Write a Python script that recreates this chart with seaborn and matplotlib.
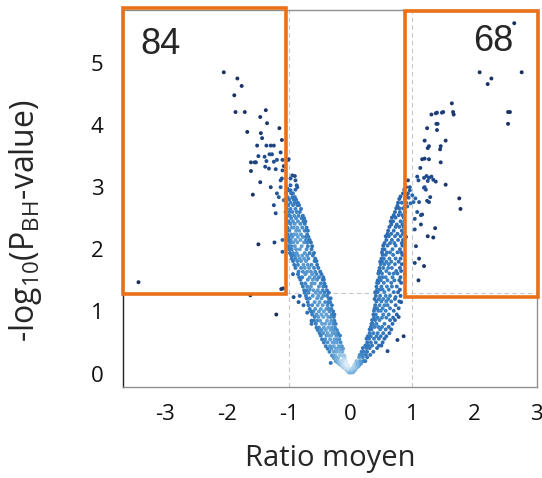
import numpy as np
import pandas as pd
import matplotlib
matplotlib.use("Agg")
import matplotlib.pyplot as plt
from matplotlib.colors import LinearSegmentedColormap
from matplotlib.patches import Rectangle
import seaborn as sns

# ---- points (ratio moyen, -log10 P_BH) ----
# bras gauche, bande dense : une ligne par niveau de y
left_rows_y = [0.02, 0.05, 0.08, 0.10, 0.13, 0.15, 0.18, 0.20,
               0.25, 0.29, 0.35, 0.40, 0.44, 0.50, 0.55, 0.61, 0.65, 0.70,
               0.74, 0.80, 0.85, 0.91, 0.95, 1.00, 1.04, 1.10, 1.15, 1.21,
               1.25, 1.30, 1.34, 1.40, 1.45, 1.51, 1.55, 1.60, 1.64, 1.70,
               1.75, 1.81, 1.85, 1.90, 1.94, 2.00, 2.05, 2.11, 2.15, 2.20,
               2.24, 2.30, 2.35, 2.41, 2.45, 2.50, 2.54, 2.60, 2.65, 2.71,
               2.75, 2.80, 2.84, 2.90, 2.95]
left_rows_x = [
    [-0.01, -0.03, 0.00, -0.02],
    [-0.05, -0.02, -0.03, -0.06],
    [-0.09, -0.03, -0.06, -0.04],
    [-0.12, -0.05, -0.08],
    [-0.07, -0.15, -0.04, -0.11],
    [-0.18, -0.09, -0.06, -0.13],
    [-0.10, -0.21, -0.07, -0.16],
    [-0.24, -0.08, -0.19, -0.12, -0.15],
    [-0.11, -0.27, -0.20, -0.09, -0.23],
    [-0.30, -0.14, -0.18, -0.25, -0.10],
    [-0.22, -0.13, -0.34, -0.27, -0.17],
    [-0.15, -0.37, -0.24, -0.12, -0.31, -0.20],
    [-0.33, -0.19, -0.40, -0.14, -0.27],
    [-0.16, -0.29, -0.43, -0.22, -0.37, -0.25],
    [-0.41, -0.18, -0.33, -0.46, -0.26, -0.21],
    [-0.23, -0.39, -0.17, -0.48, -0.31, -0.35],
    [-0.44, -0.20, -0.29, -0.50, -0.37, -0.26],
    [-0.32, -0.47, -0.22, -0.40, -0.53, -0.27],
    [-0.25, -0.51, -0.36, -0.43, -0.30, -0.55],
    [-0.46, -0.28, -0.56, -0.34, -0.24, -0.41, -0.63],
    [-0.38, -0.59, -0.26, -0.49, -0.31, -0.54],
    [-0.27, -0.44, -0.58, -0.36, -0.52, -0.32],
    [-0.55, -0.30, -0.47, -0.62, -0.39, -0.26],
    [-0.34, -0.60, -0.43, -0.28, -0.51, -0.64],
    [-0.48, -0.31, -0.66, -0.39, -0.57, -0.35],
    [-0.62, -0.37, -0.30, -0.53, -0.45, -0.68, -0.76],
    [-0.41, -0.58, -0.33, -0.69, -0.50, -0.36],
    [-0.66, -0.35, -0.47, -0.54, -0.32, -0.71],
    [-0.38, -0.61, -0.72, -0.44, -0.52, -0.82],
    [-0.56, -0.35, -0.68, -0.42, -0.74, -0.49],
    [-0.45, -0.71, -0.38, -0.60, -0.53, -0.75],
    [-0.64, -0.40, -0.77, -0.51, -0.44, -0.70],
    [-0.48, -0.73, -0.58, -0.42, -0.79, -0.63],
    [-0.69, -0.45, -0.54, -0.81, -0.61, -0.43],
    [-0.51, -0.78, -0.44, -0.66, -0.83, -0.58],
    [-0.73, -0.47, -0.62, -0.85, -0.55, -0.93],
    [-0.57, -0.84, -0.70, -0.49, -0.77, -0.64],
    [-0.80, -0.52, -0.67, -0.89, -0.59, -0.74],
    [-0.63, -0.91, -0.54, -0.76, -0.85, -0.69],
    [-0.86, -0.58, -0.72, -0.93, -0.55, -0.80],
    [-0.68, -0.95, -0.82, -0.57, -0.75, -0.89],
    [-0.91, -0.61, -0.78, -0.96, -0.70, -0.85],
    [-0.74, -0.98, -0.59, -0.87, -0.66, -0.93],
    [-0.95, -0.63, -0.82, -0.71, -0.99, -0.88],
    [-0.69, -0.90, -1.00, -0.62, -0.79, -0.96],
    [-0.86, -0.64, -0.98, -0.75, -0.93, -0.70],
    [-0.97, -0.72, -0.81, -1.01, -0.66, -0.89],
    [-0.77, -0.94, -0.68, -1.00, -0.85, -0.72],
    [-0.91, -0.70, -1.02, -0.80, -0.96, -0.87],
    [-0.74, -0.99, -0.88, -0.69, -1.03, -0.83],
    [-0.95, -0.78, -0.71, -1.02, -0.86, -0.92],
    [-0.81, -1.03, -0.90, -0.74, -0.97],
    [-1.00, -0.76, -0.93, -0.85, -0.73],
    [-0.88, -0.79, -1.04, -0.96, -0.75],
    [-0.98, -0.84, -0.77, -1.02, -0.91],
    [-0.82, -1.05, -0.94, -0.87, -0.99],
    [-0.97, -0.80, -1.03, -0.89],
    [-0.86, -1.01, -0.93, -0.83],
    [-1.04, -0.90, -0.85, -0.97],
    [-0.92, -1.05, -0.88, -0.99],
    [-1.02, -0.94, -0.90],
    [-0.96, -1.04, -0.93],
    [-1.01, -0.97],
]

# bras droit, bande dense
right_rows_y = [0.02, 0.05, 0.08, 0.11, 0.13, 0.16, 0.20,
                0.26, 0.30, 0.35, 0.41, 0.45, 0.50, 0.56, 0.60, 0.65, 0.71,
                0.75, 0.80, 0.86, 0.90, 0.95, 1.01, 1.05, 1.10, 1.16, 1.20,
                1.25, 1.31, 1.35, 1.40, 1.46, 1.50, 1.55, 1.61, 1.65, 1.70,
                1.76, 1.80, 1.85, 1.91, 1.95, 2.00, 2.06, 2.10, 2.15, 2.21,
                2.25, 2.30, 2.36, 2.40, 2.45, 2.51, 2.55, 2.60, 2.66, 2.70,
                2.75, 2.81, 2.85, 2.90, 2.96, 3.00]
right_rows_x = [
    [0.02, 0.04, 0.01],
    [0.05, 0.02, 0.07],
    [0.09, 0.03, 0.06],
    [0.05, 0.12, 0.08],
    [0.14, 0.06, 0.10],
    [0.08, 0.17, 0.12],
    [0.21, 0.10, 0.16, 0.24],
    [0.14, 0.27, 0.20],
    [0.25, 0.15, 0.32, 0.19],
    [0.18, 0.37, 0.27, 0.22],
    [0.31, 0.20, 0.43, 0.26],
    [0.46, 0.24, 0.35, 0.29, 0.50],
    [0.27, 0.41, 0.52, 0.33],
    [0.38, 0.26, 0.55, 0.46, 0.30],
    [0.49, 0.33, 0.28, 0.58, 0.42],
    [0.31, 0.44, 0.63, 0.37, 0.53],
    [0.57, 0.34, 0.48, 0.31, 0.66],
    [0.39, 0.62, 0.33, 0.51, 0.45],
    [0.68, 0.36, 0.55, 0.42, 0.34],
    [0.47, 0.35, 0.64, 0.40, 0.72],
    [0.38, 0.58, 0.51, 0.69, 0.44],
    [0.62, 0.41, 0.37, 0.75, 0.53],
    [0.45, 0.70, 0.38, 0.57, 0.49],
    [0.39, 0.64, 0.52, 0.78, 0.43],
    [0.73, 0.47, 0.40, 0.60, 0.55],
    [0.42, 0.58, 0.79, 0.50, 0.66],
    [0.61, 0.39, 0.46, 0.72, 0.53],
    [0.48, 0.81, 0.41, 0.64, 0.57],
    [0.70, 0.44, 0.55, 0.40, 0.77],
    [0.52, 0.62, 0.43, 0.80, 0.47],
    [0.42, 0.75, 0.59, 0.50, 0.67],
    [0.66, 0.45, 0.82, 0.54, 0.43],
    [0.49, 0.71, 0.44, 0.60, 0.79],
    [0.57, 0.81, 0.47, 0.68, 0.52],
    [0.45, 0.63, 0.76, 0.51, 0.70],
    [0.74, 0.48, 0.58, 0.46, 0.82],
    [0.53, 0.67, 0.80, 0.47, 0.61],
    [0.62, 0.49, 0.83, 0.72, 0.55],
    [0.78, 0.51, 0.66, 0.58, 0.48],
    [0.54, 0.73, 0.50, 0.81, 0.63],
    [0.69, 0.57, 0.84, 0.52],
    [0.51, 0.76, 0.64, 0.59, 0.82],
    [0.80, 0.55, 0.68, 0.52],
    [0.60, 0.84, 0.73, 0.53],
    [0.55, 0.71, 0.64, 0.83],
    [0.77, 0.58, 0.85, 0.67],
    [0.62, 0.81, 0.57, 0.72],
    [0.85, 0.66, 0.60, 0.76],
    [0.70, 0.61, 0.83],
    [0.79, 0.63, 0.73, 0.86],
    [0.66, 0.84, 0.75],
    [0.81, 0.69, 0.65, 0.87],
    [0.73, 0.86, 0.67],
    [0.84, 0.70, 0.78],
    [0.72, 0.88, 0.80],
    [0.85, 0.74, 0.79],
    [0.76, 0.89],
    [0.83, 0.77, 0.90],
    [0.88, 0.79],
    [0.81, 0.91],
    [0.93, 0.85],
    [0.87],
    [0.96, 0.90],
]

# points isoles, bras gauche
left_out_x = [-2.05, -1.83, -1.76, -1.88, -1.86, -1.71, -1.37, -1.46, -1.35, -1.67,
              -1.45, -1.15, -1.43, -1.11, -1.51, -1.36, -1.29, -1.24, -1.49, -1.39,
              -1.31, -1.27, -1.13, -1.61, -1.55, -1.53, -1.36, -1.24, -1.19, -1.61,
              -1.38, -1.32, -1.21, -1.10, -1.01, -1.46, -1.58, -1.29, -1.13, -0.94,
              -0.89, -0.86, -0.97, -1.02, -1.24, -1.21, -1.49, -1.23, -1.10, -1.10,
              -3.43, -1.12, -1.62, -1.20, -1.09, -0.92, -0.84, -0.63, -0.32, -1.00,
              -0.90, -0.97, -0.87, -0.89, -1.11, -1.13, -1.10, -1.08, -1.19, -1.16,
              -1.08, -0.70, -0.66, -0.72]
left_out_y = [4.85, 4.75, 4.63, 4.48, 4.21, 4.21, 4.24, 4.13, 4.03, 3.89,
              3.87, 3.95, 3.79, 3.76, 3.67, 3.67, 3.67, 3.67, 3.50, 3.49,
              3.53, 3.53, 3.56, 3.40, 3.40, 3.40, 3.42, 3.41, 3.44, 3.26,
              3.33, 3.30, 3.29, 3.44, 3.44, 3.08, 2.88, 3.00, 3.11, 3.19,
              3.11, 3.00, 3.03, 2.98, 2.71, 2.58, 2.08, 2.11, 2.15, 1.96,
              1.47, 1.36, 1.26, 0.95, 1.37, 1.23, 1.15, 0.85, 0.17, 3.45,
              3.18, 3.14, 3.03, 2.96, 3.14, 3.00, 3.27, 3.34, 2.90, 2.84,
              2.79, 0.98, 1.35, 1.62]

# points isoles, bras droit
right_out_x = [2.65, 2.09, 2.77, 2.28, 2.22, 2.55, 2.58, 2.55, 1.64, 1.66,
               1.67, 1.31, 1.38, 1.40, 1.48, 1.50, 1.39, 1.41, 1.24, 1.40,
               1.20, 1.54, 1.27, 1.25, 1.46, 1.45, 1.16, 1.20, 1.27, 1.46,
               1.13, 1.08, 1.10, 1.19, 1.23, 1.27, 1.31, 1.34, 1.38, 1.54,
               1.19, 1.22, 1.29, 1.76, 1.78, 1.37, 1.25, 1.34, 1.14, 1.14,
               1.04, 1.06, 1.11, 1.04, 1.19, 1.10, 1.20, 1.24, 1.11, 1.08,
               1.04, 1.00, 0.86, 0.76, 0.60, 0.78, 0.82, 0.73, 1.25, 0.96,
               0.94, 0.97, 0.92, 1.05, 1.02, 1.27, 1.16, 0.93, 0.90, 0.88]
right_out_y = [5.64, 4.85, 4.85, 4.75, 4.66, 4.21, 4.21, 4.02, 4.35, 4.21,
               4.17, 4.17, 4.19, 4.20, 4.20, 4.21, 4.02, 4.02, 3.95, 3.92,
               3.75, 3.75, 3.66, 3.63, 3.66, 3.61, 3.45, 3.46, 3.45, 3.40,
               3.31, 3.17, 3.11, 3.15, 3.18, 3.15, 3.17, 3.12, 3.09, 3.04,
               2.99, 2.96, 2.84, 2.82, 2.65, 2.34, 2.21, 2.19, 2.55, 2.40,
               2.32, 2.05, 1.85, 1.78, 1.73, 1.50, 3.00, 2.78, 2.76, 2.60,
               2.49, 2.87, 0.60, 0.54, 0.36, 0.91, 1.15, 1.23, 3.10, 2.95,
               2.83, 2.74, 2.69, 2.82, 2.76, 2.76, 2.56, 3.11, 2.20, 1.60]

box_left = (-3.68, 1.28, -1.05, 5.88)
box_right = (0.89, 1.23, 3.03, 5.84)
count_left = "84"
count_right = "68"

# ---- assemblage ----
assert len(left_rows_y) == len(left_rows_x)
assert len(right_rows_y) == len(right_rows_x)
xs, ys = [], []
for yv, row in zip(left_rows_y, left_rows_x):
    xs += row
    ys += [yv] * len(row)
for yv, row in zip(right_rows_y, right_rows_x):
    xs += row
    ys += [yv] * len(row)
xs += left_out_x + right_out_x
ys += left_out_y + right_out_y
df = pd.DataFrame({"ratio": xs, "logp": ys})

# couleur selon la densite locale (facon densCols)
px = df["ratio"].values * 61.8
py = df["logp"].values * 62.0
d2 = (px[:, None] - px[None, :]) ** 2 + (py[:, None] - py[None, :]) ** 2
dens = np.exp(-d2 / (2 * 10.0 ** 2)).sum(axis=1)
df["dens"] = dens / dens.max()

cmap = LinearSegmentedColormap.from_list(
    "vol", [(0.0, "#1a2b57"), (0.2, "#1f4a8a"), (0.4, "#2a68b0"),
            (0.6, "#3a82c4"), (0.8, "#78b2de"), (1.0, "#e0eef9")])

sns.set_style("white")
plt.rcParams["font.family"] = ["Open Sans", "DejaVu Sans"]
plt.rcParams["mathtext.default"] = "regular"
plt.rcParams["axes.unicode_minus"] = False

fig = plt.figure(figsize=(5.42, 4.78), dpi=100)
ax = fig.add_axes([0.227, 0.190, 0.764, 0.790])

for xv in (-1, 1):
    ax.axvline(xv, color="#c8c8c8", lw=0.8, ls=(0, (4, 3)), zorder=0)
ax.axhline(1.3, color="#c8c8c8", lw=0.8, ls=(0, (4, 3)), zorder=0)

sns.scatterplot(data=df, x="ratio", y="logp", hue="dens", palette=cmap,
                hue_norm=(0, 1), s=8, linewidth=0, legend=False, ax=ax)

for (x0, y0, x1, y1) in (box_left, box_right):
    ax.add_patch(Rectangle((x0, y0), x1 - x0, y1 - y0, fill=False,
                           ec="#e8711a", lw=2.6, clip_on=False, zorder=5))

ax.text(-3.07, 5.29, count_left, fontsize=26, ha="center", va="center",
        family=["Liberation Sans", "DejaVu Sans"])
ax.text(2.31, 5.34, count_right, fontsize=26, ha="center", va="center",
        family=["Liberation Sans", "DejaVu Sans"])

ax.set_xlim(-3.68, 3.02)
ax.set_ylim(-0.22, 5.86)
ax.set_xticks([-3, -2, -1, 0, 1, 2, 3])
ax.set_yticks([0, 1, 2, 3, 4, 5])
ax.tick_params(axis="both", labelsize=16, length=5, width=1, color="#777777",
               labelcolor="#111111")
ax.tick_params(axis="y", pad=9)
ax.tick_params(axis="x", pad=7)
ax.set_xlabel("Ratio moyen", fontsize=21, labelpad=14)
ax.set_ylabel("-log$_{10}$(P$_{BH}$-value)", fontsize=23)
ax.yaxis.set_label_coords(-0.19, 0.44)

for side in ["top", "right", "bottom"]:
    ax.spines[side].set_color("#909090")
    ax.spines[side].set_linewidth(1)
ax.spines["left"].set_color("#222222")
ax.spines["left"].set_linewidth(1)

fig.savefig("out.png", dpi=100)
